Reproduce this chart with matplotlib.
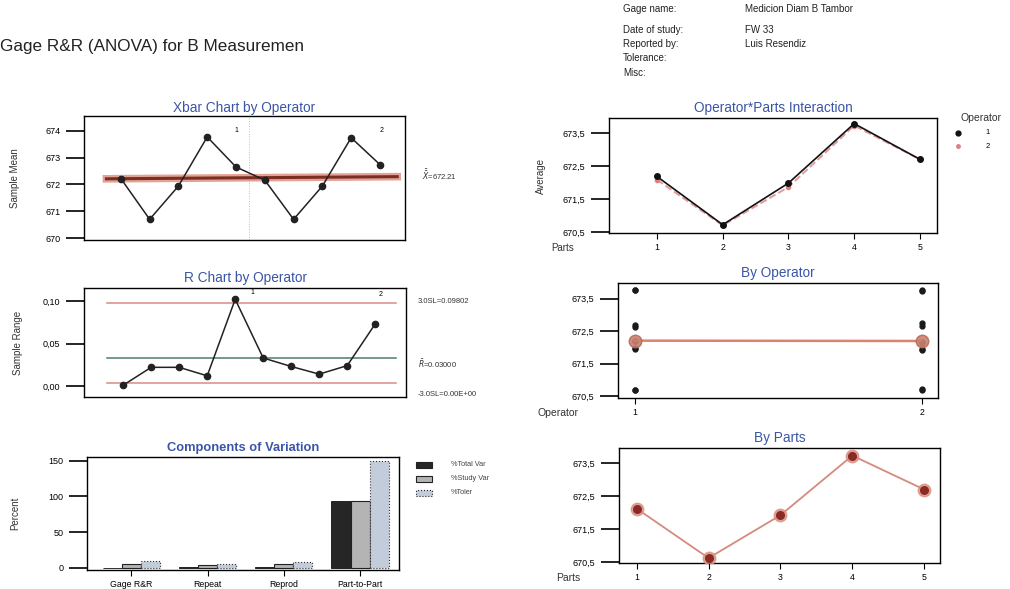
import matplotlib
matplotlib.use("Agg")
import matplotlib.pyplot as plt
from matplotlib.patches import Rectangle

plt.rcParams['font.family'] = ['Liberation Sans', 'DejaVu Sans']

# values
xbar_means = [672.22, 670.70, 671.94, 673.77, 672.65, 672.16, 670.70, 671.94, 673.74, 672.74]
xbar_center = 672.21
r_ranges = [0.001, 0.022, 0.022, 0.012, 0.102, 0.033, 0.023, 0.014, 0.024, 0.073]
r_ucl = 0.09802
r_center = 0.03000
r_lcl = 0.0

components = ["Gage R&R", "Repeat", "Reprod", "Part-to-Part"]
pct_total = [0.4, 1.0, 1.5, 93]
pct_study = [5.5, 4.0, 6.0, 94]
pct_toler = [10, 5.5, 8.5, 149]

parts = [1, 2, 3, 4, 5]
op1_avg = [672.18, 670.72, 671.98, 673.78, 672.70]
op2_avg = [672.08, 670.70, 671.86, 673.72, 672.70]

op1_meas = [672.20, 672.20, 670.69, 670.71, 671.94, 671.98, 673.75, 673.77, 672.62, 672.70]
op2_meas = [672.14, 672.18, 670.70, 670.72, 671.92, 671.96, 673.72, 673.75, 672.66, 672.74]
op_means = [672.21, 672.20]

part_means = [672.12, 670.62, 671.92, 673.73, 672.70]

W, H = 1010, 589
fig = plt.figure(figsize=(W / 100, H / 100), dpi=100)
blue = "#3a55a8"
gray_txt = '#333333'


def px_axes(l, t, r, b):
    return fig.add_axes([l / W, 1 - b / H, (r - l) / W, (b - t) / H])


def style(ax, ticklen=13):
    ax.tick_params(axis='y', direction='out', length=ticklen, width=1.2,
                   labelsize=6.5, pad=4)
    ax.tick_params(axis='x', direction='out', length=4, width=0.8, labelsize=6.3, pad=3)
    for s in ax.spines.values():
        s.set_linewidth(1.0)


# header texts
fig.text(0, 1 - 47 / H, "Gage R&R (ANOVA) for B Measuremen", fontsize=12.3, va='center',
         color='#222222')
hdr_left = ["Gage name:", "Date of study:", "Reported by:", "Tolerance:", "Misc:"]
hdr_right = ["Medicion Diam B Tambor", "FW 33", "Luis Resendiz", "", ""]
hdr_y = [9, 30, 44, 58, 73]
for a, b, y in zip(hdr_left, hdr_right, hdr_y):
    fig.text(623 / W, 1 - y / H, a, fontsize=7, va='center', color='#222222')
    fig.text(745 / W, 1 - y / H, b, fontsize=7, va='center', color='#222222')

# Xbar chart
ax1 = px_axes(84, 116, 405, 240)
idx = list(range(len(xbar_means)))
ax1.plot([-0.5, 9.6], [xbar_center, xbar_center + 0.08], color='#e3a294', lw=5.5, zorder=1)
ax1.plot([-0.5, 9.6], [xbar_center, xbar_center + 0.08], color='#7a2e24', lw=2.2, zorder=2)
ax1.axvline(4.45, color='#bbbbbb', lw=0.7, ls=':', zorder=0)
ax1.plot(idx, xbar_means, color='#222222', lw=1.1, marker='o', ms=4.5, zorder=3)
ax1.text(4.0, 673.95, "1", fontsize=5, ha='center')
ax1.text(9.05, 673.95, "2", fontsize=5, ha='center')
ax1.set_xlim(-1.28, 9.87)
ax1.set_ylim(669.93, 674.55)
ax1.set_yticks([670, 671, 672, 673, 674])
ax1.set_xticks([])
style(ax1)
ax1.set_title("Xbar Chart by Operator", fontsize=9.8, color=blue, pad=3)
ax1.set_ylabel("Sample Mean", fontsize=7, color=gray_txt, labelpad=18)
fig.text(422 / W, 1 - 175 / H, r"$\bar{\bar{X}}$=672.21", fontsize=5.5, va='center',
         color=gray_txt)

# R chart
ax2 = px_axes(84, 288, 406, 397)
ax2.axhline(r_ucl, xmin=0.07, xmax=0.97, color='#d88a86', lw=1.1)
ax2.axhline(r_center + 0.003, xmin=0.07, xmax=0.97, color='#4f7d66', lw=1.1)
ax2.axhline(r_lcl + 0.004, xmin=0.07, xmax=0.97, color='#d88a86', lw=1.1)
ax2.plot(idx, r_ranges, color='#222222', lw=1.1, marker='o', ms=4.5, zorder=3)
ax2.text(4.6, 0.108, "1", fontsize=5, ha='center')
ax2.text(9.2, 0.106, "2", fontsize=5, ha='center')
ax2.set_xlim(-1.4, 10.1)
ax2.set_ylim(-0.0129, 0.1153)
ax2.set_yticks([0.0, 0.05, 0.10])
ax2.set_yticklabels(["0,00", "0,05", "0,10"])
ax2.set_xticks([])
style(ax2)
ax2.set_title("R Chart by Operator", fontsize=9.8, color=blue, pad=4)
ax2.set_ylabel("Sample Range", fontsize=7, color=gray_txt, labelpad=14)
fig.text(418 / W, 1 - 301 / H, "3.0SL=0.09802", fontsize=5.5, va='center', color=gray_txt)
fig.text(418 / W, 1 - 364 / H, r"$\bar{R}$=0.03000", fontsize=5.5, va='center', color=gray_txt)
fig.text(418 / W, 1 - 394 / H, "-3.0SL=0.00E+00", fontsize=5.5, va='center', color=gray_txt)

# Components of variation
ax3 = px_axes(87, 457, 399, 570)
pos = list(range(len(components)))
bw = 0.25
ax3.bar([p - bw for p in pos], pct_total, bw, color='#262626', edgecolor='#111111', lw=0.6)
ax3.bar(pos, pct_study, bw, color='#b4b4b4', edgecolor='#222222', lw=0.8)
ax3.bar([p + bw for p in pos], pct_toler, bw, color='#c3ccdb', edgecolor='#333333',
        lw=0.8, linestyle=':')
ax3.set_xlim(-0.58, 3.51)
ax3.set_ylim(-2.8, 155)
ax3.set_yticks([0, 50, 100, 150])
ax3.set_xticks(pos)
ax3.set_xticklabels(components, fontsize=5.8)
style(ax3)
ax3.set_title("Components of Variation", fontsize=9.3, color=blue, pad=4, fontweight='bold')
ax3.set_ylabel("Percent", fontsize=7, color=gray_txt, labelpad=20)
leg_items = [("%Total Var", '#262626', '-'), ("%Study Var", '#b4b4b4', '-'),
             ("%Toler", '#c3ccdb', ':')]
for i, (lab, col, ls) in enumerate(leg_items):
    y = 465 + i * 14
    fig.patches.append(Rectangle((416 / W, 1 - (y + 3) / H), 16 / W, 6 / H, facecolor=col,
                                 edgecolor='#222222', lw=0.8, linestyle=ls,
                                 transform=fig.transFigure))
    fig.text(451 / W, 1 - y / H, lab, fontsize=5.3, va='center', color='#444444')

# Operator*Parts interaction
ax4 = px_axes(609, 118, 937, 233)
ax4.plot(parts, op1_avg, color='#111111', lw=1.2, marker='o', ms=4, zorder=3)
ax4.plot(parts, op2_avg, color='#e29a9a', lw=1.4, ls='--', marker='o', ms=3,
         markerfacecolor='#e07f7f', markeredgecolor='#e07f7f', zorder=2)
ax4.set_xlim(0.27, 5.26)
ax4.set_ylim(670.47, 673.95)
ax4.set_yticks([670.5, 671.5, 672.5, 673.5])
ax4.set_yticklabels(["670,5", "671,5", "672,5", "673,5"])
ax4.set_xticks(parts)
style(ax4)
ax4.set_title("Operator*Parts Interaction", fontsize=9.8, color=blue, pad=4)
ax4.set_ylabel("Average", fontsize=7, color=gray_txt, labelpad=12)
fig.text(563 / W, 1 - 248 / H, "Parts", fontsize=7, ha='center', va='center', color=gray_txt)
fig.text(981 / W, 1 - 118 / H, "Operator", fontsize=7.5, ha='center', va='center', color=gray_txt)
fig.lines.append(plt.Line2D([958 / W], [1 - 133 / H], marker='o', ms=3.5, color='#111111',
                            transform=fig.transFigure))
fig.lines.append(plt.Line2D([958 / W], [1 - 146 / H], marker='o', ms=2.5, color='#e07f7f',
                            transform=fig.transFigure))
fig.text(988 / W, 1 - 133 / H, "1", fontsize=5.5, ha='center', va='center')
fig.text(988 / W, 1 - 146 / H, "2", fontsize=5.5, ha='center', va='center')

# By operator
ax5 = px_axes(618, 283, 938, 398)
ax5.plot([1] * len(op1_meas), op1_meas, 'o', color='#1a1a1a', ms=3.5, zorder=2)
ax5.plot([2] * len(op2_meas), op2_meas, 'o', color='#1a1a1a', ms=3.5, zorder=2)
ax5.plot([1, 2], op_means, color='#d77560', lw=1.8, marker='o', ms=9,
         markerfacecolor='#c98170', markeredgecolor='#b86a58', alpha=0.9, zorder=3)
ax5.set_xlim(0.942, 2.057)
ax5.set_ylim(670.45, 673.98)
ax5.set_yticks([670.5, 671.5, 672.5, 673.5])
ax5.set_yticklabels(["670,5", "671,5", "672,5", "673,5"])
ax5.set_xticks([1, 2])
style(ax5)
ax5.set_title("By Operator", fontsize=9.8, color=blue, pad=4)
fig.text(558 / W, 1 - 413 / H, "Operator", fontsize=7.5, ha='center', va='center', color=gray_txt)

# By parts
ax6 = px_axes(619, 448, 940, 563)
ax6.plot(parts, part_means, color='#d58a7c', lw=1.3, zorder=2)
ax6.plot(parts, part_means, 'o', ms=9, color='#d89080', alpha=0.8, zorder=3)
ax6.plot(parts, part_means, 'o', ms=5.5, color='#8a2a22', zorder=4)
ax6.set_xlim(0.754, 5.22)
ax6.set_ylim(670.47, 673.96)
ax6.set_yticks([670.5, 671.5, 672.5, 673.5])
ax6.set_yticklabels(["670,5", "671,5", "672,5", "673,5"])
ax6.set_xticks(parts)
style(ax6)
ax6.set_title("By Parts", fontsize=9.8, color=blue, pad=4)
fig.text(568 / W, 1 - 578 / H, "Parts", fontsize=7.5, ha='center', va='center', color=gray_txt)

fig.savefig("out.png", dpi=100)
